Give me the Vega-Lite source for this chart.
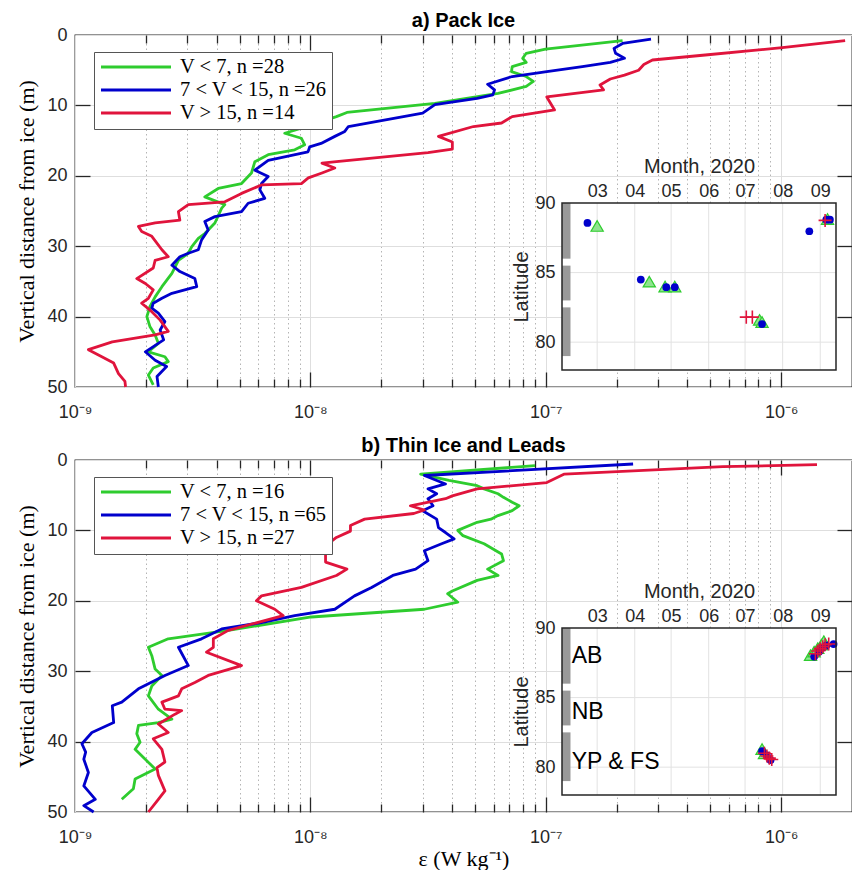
{
  "$schema": "https://vega.github.io/schema/vega-lite/v6.json",
  "background": "white",
  "padding": {"left": 15, "top": 10, "right": 0, "bottom": 0},
  "spacing": 13,
  "config": {
    "font": "Liberation Sans",
    "view": {"stroke": "#262626", "strokeWidth": 1.3},
    "axis": {"labelFont": "Liberation Sans", "labelFontSize": 18, "labelColor": "#262626", "titleFont": "Liberation Serif", "titleFontSize": 22, "titleFontWeight": "normal", "titleColor": "#000000", "tickColor": "#262626", "tickWidth": 1.3, "labelFlush": false, "labelOverlap": false, "gridColor": "#dedede", "gridWidth": 1},
    "title": {"font": "Liberation Sans", "fontSize": 20, "fontWeight": "bold", "color": "#000000", "anchor": "middle", "offset": -5}
  },
  "resolve": {"scale": {"color": "independent"}},
  "datasets": {
    "A": [
      {"s":"g","d":0.81,"e":2.12e-7},{"s":"g","d":2.0,"e":9.97e-8},{"s":"g","d":2.6,"e":8.26e-8},{"s":"g","d":3.3,"e":7.98e-8},{"s":"g","d":3.9,"e":8.26e-8},{"s":"g","d":4.5,"e":7.2e-8},{"s":"g","d":5.2,"e":7.15e-8},{"s":"g","d":5.9,"e":8.26e-8},{"s":"g","d":6.6,"e":8.85e-8},{"s":"g","d":7.3,"e":8.26e-8},{"s":"g","d":8.3,"e":6.27e-8},{"s":"g","d":9.7,"e":3.38e-8},{"s":"g","d":11.0,"e":1.43e-8},{"s":"g","d":11.6,"e":1.29e-8},{"s":"g","d":13.25,"e":9.16e-9},{"s":"g","d":13.96,"e":7.78e-9},{"s":"g","d":14.67,"e":9.16e-9},{"s":"g","d":15.6,"e":9.46e-9},{"s":"g","d":16.3,"e":8.58e-9},{"s":"g","d":17.0,"e":6.62e-9},{"s":"g","d":18.0,"e":5.81e-9},{"s":"g","d":19.6,"e":5.62e-9},{"s":"g","d":21.1,"e":5.1e-9},{"s":"g","d":21.8,"e":4.06e-9},{"s":"g","d":23.0,"e":3.56e-9},{"s":"g","d":24.1,"e":4.33e-9},{"s":"g","d":24.6,"e":4.2e-9},{"s":"g","d":26.7,"e":3.93e-9},{"s":"g","d":28.2,"e":3.56e-9},{"s":"g","d":28.9,"e":3.34e-9},{"s":"g","d":30.1,"e":3.13e-9},{"s":"g","d":31.0,"e":3.03e-9},{"s":"g","d":32.0,"e":2.75e-9},{"s":"g","d":33.85,"e":2.58e-9},{"s":"g","d":35.75,"e":2.34e-9},{"s":"g","d":37.2,"e":2.19e-9},{"s":"g","d":38.6,"e":2.08e-9},{"s":"g","d":40.0,"e":2.02e-9},{"s":"g","d":41.4,"e":2.08e-9},{"s":"g","d":42.6,"e":2.19e-9},{"s":"g","d":43.8,"e":2.26e-9},{"s":"g","d":45.0,"e":2.05e-9},{"s":"g","d":45.7,"e":2.41e-9},{"s":"g","d":46.4,"e":2.49e-9},{"s":"g","d":47.3,"e":2.15e-9},{"s":"g","d":48.3,"e":2.05e-9},{"s":"g","d":49.7,"e":2.15e-9},
      {"s":"b","d":0.57,"e":2.8e-7},{"s":"b","d":1.2,"e":2.12e-7},{"s":"b","d":1.9,"e":1.95e-7},{"s":"b","d":2.6,"e":1.98e-7},{"s":"b","d":3.3,"e":2.16e-7},{"s":"b","d":3.9,"e":1.88e-7},{"s":"b","d":4.5,"e":1.43e-7},{"s":"b","d":5.2,"e":1.01e-7},{"s":"b","d":5.9,"e":7.2e-8},{"s":"b","d":7.0,"e":5.66e-8},{"s":"b","d":7.8,"e":6.06e-8},{"s":"b","d":8.5,"e":5.96e-8},{"s":"b","d":9.0,"e":5.11e-8},{"s":"b","d":9.9,"e":3.38e-8},{"s":"b","d":11.1,"e":3.0e-8},{"s":"b","d":13.0,"e":1.45e-8},{"s":"b","d":13.7,"e":1.4e-8},{"s":"b","d":14.4,"e":1.27e-8},{"s":"b","d":15.4,"e":1.11e-8},{"s":"b","d":15.9,"e":9.93e-9},{"s":"b","d":16.6,"e":9.77e-9},{"s":"b","d":17.8,"e":6.62e-9},{"s":"b","d":19.2,"e":5.81e-9},{"s":"b","d":20.1,"e":6.62e-9},{"s":"b","d":21.1,"e":6.2e-9},{"s":"b","d":22.0,"e":6.1e-9},{"s":"b","d":23.2,"e":6.4e-9},{"s":"b","d":23.9,"e":5.44e-9},{"s":"b","d":25.1,"e":5.1e-9},{"s":"b","d":25.8,"e":3.93e-9},{"s":"b","d":26.5,"e":3.56e-9},{"s":"b","d":27.7,"e":3.68e-9},{"s":"b","d":29.1,"e":3.45e-9},{"s":"b","d":30.5,"e":3.34e-9},{"s":"b","d":31.0,"e":3.03e-9},{"s":"b","d":31.5,"e":2.79e-9},{"s":"b","d":32.7,"e":2.58e-9},{"s":"b","d":33.6,"e":2.79e-9},{"s":"b","d":34.6,"e":3.23e-9},{"s":"b","d":35.75,"e":3.29e-9},{"s":"b","d":36.7,"e":2.58e-9},{"s":"b","d":37.4,"e":2.34e-9},{"s":"b","d":38.1,"e":2.15e-9},{"s":"b","d":38.8,"e":2.12e-9},{"s":"b","d":39.5,"e":2.26e-9},{"s":"b","d":40.7,"e":2.41e-9},{"s":"b","d":41.9,"e":2.3e-9},{"s":"b","d":43.3,"e":2.38e-9},{"s":"b","d":45.0,"e":1.99e-9},{"s":"b","d":46.2,"e":2.19e-9},{"s":"b","d":47.1,"e":2.45e-9},{"s":"b","d":48.5,"e":2.23e-9},{"s":"b","d":50.0,"e":2.26e-9},
      {"s":"r","d":0.81,"e":1.87e-6},{"s":"r","d":1.8,"e":1.01e-6},{"s":"r","d":2.84,"e":4.76e-7},{"s":"r","d":3.55,"e":2.84e-7},{"s":"r","d":4.2,"e":2.61e-7},{"s":"r","d":5.0,"e":2.48e-7},{"s":"r","d":5.7,"e":2.16e-7},{"s":"r","d":6.25,"e":1.88e-7},{"s":"r","d":7.1,"e":1.7e-7},{"s":"r","d":7.8,"e":1.76e-7},{"s":"r","d":8.8,"e":1.01e-7},{"s":"r","d":10.65,"e":1.09e-7},{"s":"r","d":11.6,"e":7.2e-8},{"s":"r","d":12.5,"e":6.49e-8},{"s":"r","d":13.0,"e":4.93e-8},{"s":"r","d":14.4,"e":3.5e-8},{"s":"r","d":15.2,"e":4.01e-8},{"s":"r","d":16.2,"e":4.01e-8},{"s":"r","d":16.7,"e":3.16e-8},{"s":"r","d":18.0,"e":1.29e-8},{"s":"r","d":18.2,"e":1.12e-8},{"s":"r","d":18.9,"e":1.27e-8},{"s":"r","d":19.6,"e":1.12e-8},{"s":"r","d":20.3,"e":9.8e-9},{"s":"r","d":21.1,"e":9.16e-9},{"s":"r","d":21.3,"e":6.2e-9},{"s":"r","d":22.5,"e":5.1e-9},{"s":"r","d":23.7,"e":4.33e-9},{"s":"r","d":24.1,"e":3.03e-9},{"s":"r","d":25.1,"e":2.75e-9},{"s":"r","d":26.3,"e":2.79e-9},{"s":"r","d":26.7,"e":2.19e-9},{"s":"r","d":27.2,"e":1.86e-9},{"s":"r","d":27.9,"e":1.92e-9},{"s":"r","d":28.6,"e":2.12e-9},{"s":"r","d":30.5,"e":2.34e-9},{"s":"r","d":31.5,"e":2.49e-9},{"s":"r","d":32.0,"e":2.19e-9},{"s":"r","d":33.1,"e":2.15e-9},{"s":"r","d":34.6,"e":1.83e-9},{"s":"r","d":35.3,"e":1.99e-9},{"s":"r","d":36.2,"e":2.15e-9},{"s":"r","d":37.4,"e":2.05e-9},{"s":"r","d":38.1,"e":1.92e-9},{"s":"r","d":39.3,"e":2.12e-9},{"s":"r","d":40.5,"e":2.3e-9},{"s":"r","d":42.1,"e":2.49e-9},{"s":"r","d":42.6,"e":2.19e-9},{"s":"r","d":43.6,"e":1.44e-9},{"s":"r","d":44.7,"e":1.14e-9},{"s":"r","d":45.7,"e":1.3e-9},{"s":"r","d":46.6,"e":1.46e-9},{"s":"r","d":48.1,"e":1.53e-9},{"s":"r","d":49.2,"e":1.63e-9},{"s":"r","d":50.0,"e":1.64e-9}
    ],
    "B": [
      {"s":"g","d":0.8,"e":9.0e-8},{"s":"g","d":2.0,"e":2.94e-8},{"s":"g","d":2.9,"e":3.88e-8},{"s":"g","d":3.65,"e":5.11e-8},{"s":"g","d":4.1,"e":5.47e-8},{"s":"g","d":4.8,"e":6.27e-8},{"s":"g","d":5.3,"e":6.61e-8},{"s":"g","d":6.0,"e":7.2e-8},{"s":"g","d":6.5,"e":7.71e-8},{"s":"g","d":7.2,"e":7.2e-8},{"s":"g","d":7.9,"e":6.27e-8},{"s":"g","d":8.4,"e":5.85e-8},{"s":"g","d":8.85,"e":5.11e-8},{"s":"g","d":10.0,"e":4.23e-8},{"s":"g","d":10.75,"e":4.45e-8},{"s":"g","d":11.9,"e":5.47e-8},{"s":"g","d":13.35,"e":6.49e-8},{"s":"g","d":14.3,"e":6.61e-8},{"s":"g","d":15.5,"e":5.66e-8},{"s":"g","d":16.4,"e":6.27e-8},{"s":"g","d":17.1,"e":5.11e-8},{"s":"g","d":18.6,"e":4.01e-8},{"s":"g","d":19.0,"e":3.83e-8},{"s":"g","d":20.2,"e":4.23e-8},{"s":"g","d":21.2,"e":3.05e-8},{"s":"g","d":22.3,"e":1.01e-8},{"s":"g","d":24.2,"e":4.48e-9},{"s":"g","d":25.4,"e":2.49e-9},{"s":"g","d":26.6,"e":2.05e-9},{"s":"g","d":27.8,"e":2.12e-9},{"s":"g","d":29.7,"e":2.19e-9},{"s":"g","d":30.6,"e":2.34e-9},{"s":"g","d":32.1,"e":2.12e-9},{"s":"g","d":33.5,"e":2.05e-9},{"s":"g","d":35.4,"e":2.26e-9},{"s":"g","d":36.8,"e":2.58e-9},{"s":"g","d":37.3,"e":2.26e-9},{"s":"g","d":37.7,"e":1.86e-9},{"s":"g","d":38.9,"e":1.83e-9},{"s":"g","d":40.1,"e":1.89e-9},{"s":"g","d":41.1,"e":1.8e-9},{"s":"g","d":42.0,"e":1.92e-9},{"s":"g","d":43.9,"e":2.19e-9},{"s":"g","d":45.3,"e":1.8e-9},{"s":"g","d":46.7,"e":1.77e-9},{"s":"g","d":48.2,"e":1.58e-9},
      {"s":"b","d":0.57,"e":2.35e-7},{"s":"b","d":2.2,"e":3.05e-8},{"s":"b","d":3.4,"e":3.75e-8},{"s":"b","d":4.1,"e":3.16e-8},{"s":"b","d":4.8,"e":3.44e-8},{"s":"b","d":5.5,"e":3.16e-8},{"s":"b","d":6.5,"e":3.32e-8},{"s":"b","d":7.2,"e":3.0e-8},{"s":"b","d":8.4,"e":3.44e-8},{"s":"b","d":9.6,"e":3.5e-8},{"s":"b","d":10.3,"e":3.75e-8},{"s":"b","d":11.2,"e":4.08e-8},{"s":"b","d":11.9,"e":3.61e-8},{"s":"b","d":12.9,"e":3.05e-8},{"s":"b","d":14.3,"e":3.16e-8},{"s":"b","d":15.5,"e":2.8e-8},{"s":"b","d":16.4,"e":2.24e-8},{"s":"b","d":18.1,"e":1.82e-8},{"s":"b","d":19.3,"e":1.54e-8},{"s":"b","d":21.2,"e":1.27e-8},{"s":"b","d":22.1,"e":8.58e-9},{"s":"b","d":23.1,"e":6.2e-9},{"s":"b","d":24.0,"e":4.2e-9},{"s":"b","d":25.4,"e":3.45e-9},{"s":"b","d":26.6,"e":2.75e-9},{"s":"b","d":29.2,"e":3.03e-9},{"s":"b","d":30.6,"e":2.41e-9},{"s":"b","d":32.5,"e":1.86e-9},{"s":"b","d":34.4,"e":1.58e-9},{"s":"b","d":34.9,"e":1.44e-9},{"s":"b","d":37.3,"e":1.46e-9},{"s":"b","d":38.7,"e":1.18e-9},{"s":"b","d":40.3,"e":1.07e-9},{"s":"b","d":41.5,"e":1.11e-9},{"s":"b","d":42.5,"e":1.09e-9},{"s":"b","d":44.4,"e":1.14e-9},{"s":"b","d":46.3,"e":1.09e-9},{"s":"b","d":48.2,"e":1.22e-9},{"s":"b","d":49.1,"e":1.09e-9},{"s":"b","d":50.0,"e":1.2e-9},
      {"s":"r","d":0.66,"e":1.42e-6},{"s":"r","d":0.95,"e":5.65e-7},{"s":"r","d":2.0,"e":1.2e-7},{"s":"r","d":3.2,"e":1.01e-7},{"s":"r","d":4.1,"e":5.11e-8},{"s":"r","d":5.1,"e":4.01e-8},{"s":"r","d":5.5,"e":3.75e-8},{"s":"r","d":6.5,"e":2.66e-8},{"s":"r","d":7.1,"e":3.05e-8},{"s":"r","d":7.6,"e":2.75e-8},{"s":"r","d":8.4,"e":1.7e-8},{"s":"r","d":9.3,"e":1.48e-8},{"s":"r","d":10.1,"e":1.48e-8},{"s":"r","d":11.0,"e":1.29e-8},{"s":"r","d":12.2,"e":1.16e-8},{"s":"r","d":14.5,"e":1.16e-8},{"s":"r","d":15.5,"e":1.43e-8},{"s":"r","d":16.4,"e":1.29e-8},{"s":"r","d":18.1,"e":9.16e-9},{"s":"r","d":19.3,"e":6.2e-9},{"s":"r","d":20.0,"e":5.9e-9},{"s":"r","d":21.2,"e":7.06e-9},{"s":"r","d":22.1,"e":7.66e-9},{"s":"r","d":24.2,"e":4.48e-9},{"s":"r","d":25.4,"e":3.87e-9},{"s":"r","d":26.6,"e":3.87e-9},{"s":"r","d":27.3,"e":3.62e-9},{"s":"r","d":29.2,"e":5.1e-9},{"s":"r","d":30.6,"e":3.68e-9},{"s":"r","d":31.6,"e":3.23e-9},{"s":"r","d":32.5,"e":2.84e-9},{"s":"r","d":33.5,"e":2.75e-9},{"s":"r","d":34.4,"e":2.34e-9},{"s":"r","d":35.4,"e":2.41e-9},{"s":"r","d":35.6,"e":2.84e-9},{"s":"r","d":36.1,"e":2.66e-9},{"s":"r","d":37.5,"e":2.26e-9},{"s":"r","d":38.7,"e":2.49e-9},{"s":"r","d":39.6,"e":2.15e-9},{"s":"r","d":41.1,"e":2.34e-9},{"s":"r","d":42.9,"e":2.41e-9},{"s":"r","d":43.7,"e":2.23e-9},{"s":"r","d":44.8,"e":2.26e-9},{"s":"r","d":47.0,"e":2.41e-9},{"s":"r","d":48.2,"e":2.26e-9},{"s":"r","d":50.0,"e":2.05e-9}
    ],
    "box": [{"d0": "2020-02-01", "d1": "2020-09-14", "l0": 78, "l1": 90}],
    "months": [{"m": "2020-03-01"}, {"m": "2020-04-01"}, {"m": "2020-05-01"}, {"m": "2020-06-01"}, {"m": "2020-07-01"}, {"m": "2020-08-01"}, {"m": "2020-09-01"}],
    "lats": [{"l": 80}, {"l": 85}],
    "regions": [{"l0": 86, "l1": 90}, {"l0": 83, "l1": 85.5}, {"l0": 79, "l1": 82.5}]
  },
  "vconcat": [
    {
      "width": 777, "height": 352,
      "title": {"text": "a) Pack Ice"},
      "resolve": {"scale": {"x": "independent", "y": "independent"}},
      "layer": [
        {"data": {"name": "A"},
         "mark": {"type": "line", "strokeWidth": 2.8, "strokeJoin": "round"},
         "encoding": {
           "x": {"field": "e", "type": "quantitative", "scale": {"type": "log", "domain": [1e-9, 2e-6], "nice": false},
                 "axis": {"orient": "bottom", "values": [1e-9, 1e-8, 1e-7, 1e-6], "labelExpr": "datum.value < 5e-9 ? '10⁻⁹' : datum.value < 5e-8 ? '10⁻⁸' : datum.value < 5e-7 ? '10⁻⁷' : '10⁻⁶'", "grid": true, "ticks": false, "tickSize": 0, "domain": false, "labelPadding": 16, "title": null}},
           "y": {"field": "d", "type": "quantitative", "scale": {"domain": [0, 50], "reverse": true, "nice": false, "zero": false},
                 "axis": {"orient": "left", "values": [0, 10, 20, 30, 40, 50], "grid": true, "ticks": false, "tickSize": 0, "domain": false, "labelPadding": 8, "title": "Vertical distance from ice (m)", "titlePadding": 8}},
           "color": {"field": "s", "type": "nominal", "scale": {"domain": ["g", "b", "r"], "range": ["#2ecc2e", "#0000cc", "#e0143c"]},
                     "legend": {"orient": "none", "legendX": 19, "legendY": 17, "title": null, "symbolType": "stroke", "symbolSize": 4900, "symbolStrokeWidth": 3.2, "clipHeight": 20, "rowPadding": 2, "labelFont": "Liberation Serif", "labelFontSize": 20.5, "labelColor": "#000000", "labelOffset": 7, "labelLimit": 400, "fillColor": "#ffffff", "strokeColor": "#555555", "padding": 5,
                                "labelExpr": "datum.value == 'g' ? 'V < 7, n =28' : datum.value == 'b' ? '7 < V < 15, n =26' : 'V > 15, n =14'"}},
           "order": {"field": "d", "type": "quantitative"}
         }},
        {"data": {"name": "A"},
         "mark": {"type": "point", "opacity": 0},
         "encoding": {
           "x": {"field": "e", "type": "quantitative", "scale": {"type": "log", "domain": [1e-9, 2e-6], "nice": false}, "axis": {"orient": "bottom", "values": [2e-9,3e-9,4e-9,5e-9,6e-9,7e-9,8e-9,9e-9,2e-8,3e-8,4e-8,5e-8,6e-8,7e-8,8e-8,9e-8,2e-7,3e-7,4e-7,5e-7,6e-7,7e-7,8e-7,9e-7], "grid": true, "gridColor": "#b4b4b4", "gridDash": [1.5, 3], "ticks": false, "tickSize": 0, "labels": false, "domain": false, "title": null}},
           "y": {"field": "d", "type": "quantitative", "scale": {"domain": [0, 50], "reverse": true, "nice": false, "zero": false}, "axis": {"orient": "left", "values": [10, 20, 30, 40], "grid": false, "labels": false, "domain": false, "ticks": true, "tickSize": 15, "offset": -15, "title": null}}
         }},
        {"data": {"name": "A"},
         "mark": {"type": "point", "opacity": 0},
         "encoding": {
           "x": {"field": "e", "type": "quantitative", "scale": {"type": "log", "domain": [1e-9, 2e-6], "nice": false}, "axis": {"orient": "bottom", "values": [1e-8, 1e-7, 1e-6], "grid": false, "labels": false, "domain": false, "ticks": true, "tickSize": 15, "offset": -15, "title": null}},
           "y": {"field": "d", "type": "quantitative", "scale": {"domain": [0, 50], "reverse": true, "nice": false, "zero": false}, "axis": {"orient": "right", "values": [10, 20, 30, 40], "grid": false, "labels": false, "domain": false, "ticks": true, "tickSize": 15, "offset": -15, "title": null}}
         }},
        {"data": {"name": "A"},
         "mark": {"type": "point", "opacity": 0},
         "encoding": {
           "x": {"field": "e", "type": "quantitative", "scale": {"type": "log", "domain": [1e-9, 2e-6], "nice": false}, "axis": {"orient": "bottom", "values": [2e-9,3e-9,4e-9,5e-9,6e-9,7e-9,8e-9,9e-9,2e-8,3e-8,4e-8,5e-8,6e-8,7e-8,8e-8,9e-8,2e-7,3e-7,4e-7,5e-7,6e-7,7e-7,8e-7,9e-7], "grid": false, "labels": false, "domain": false, "ticks": true, "tickSize": 8, "offset": -8, "title": null}},
           "y": {"field": "d", "type": "quantitative", "scale": {"domain": [0, 50], "reverse": true, "nice": false, "zero": false}, "axis": null}
         }},
        {"data": {"name": "A"},
         "mark": {"type": "point", "opacity": 0},
         "encoding": {
           "x": {"field": "e", "type": "quantitative", "scale": {"type": "log", "domain": [1e-9, 2e-6], "nice": false}, "axis": {"orient": "top", "values": [1e-8, 1e-7, 1e-6], "grid": false, "labels": false, "domain": false, "ticks": true, "tickSize": 15, "offset": -15, "title": null}},
           "y": {"field": "d", "type": "quantitative", "scale": {"domain": [0, 50], "reverse": true, "nice": false, "zero": false}, "axis": null}
         }},
        {"data": {"name": "A"},
         "mark": {"type": "point", "opacity": 0},
         "encoding": {
           "x": {"field": "e", "type": "quantitative", "scale": {"type": "log", "domain": [1e-9, 2e-6], "nice": false}, "axis": {"orient": "top", "values": [2e-9,3e-9,4e-9,5e-9,6e-9,7e-9,8e-9,9e-9,2e-8,3e-8,4e-8,5e-8,6e-8,7e-8,8e-8,9e-8,2e-7,3e-7,4e-7,5e-7,6e-7,7e-7,8e-7,9e-7], "grid": false, "labels": false, "domain": false, "ticks": true, "tickSize": 8, "offset": -8, "title": null}},
           "y": {"field": "d", "type": "quantitative", "scale": {"domain": [0, 50], "reverse": true, "nice": false, "zero": false}, "axis": null}
         }},
        {"data": {"name": "box", "format": {"parse": {"d0": "date", "d1": "date"}}},
         "mark": {"type": "rect", "fill": "#ffffff", "strokeWidth": 0},
         "encoding": {
           "x": {"field": "d0", "type": "temporal", "scale": {"type": "utc", "domain": [{"year": 2020, "month": 2, "date": 1, "utc": true}, {"year": 2020, "month": 9, "date": 14, "utc": true}], "range": [487, 761], "nice": false},
                 "axis": {"orient": "top", "offset": -168, "values": [{"year": 2020, "month": 3, "date": 1, "utc": true}, {"year": 2020, "month": 4, "date": 1, "utc": true}, {"year": 2020, "month": 5, "date": 1, "utc": true}, {"year": 2020, "month": 6, "date": 1, "utc": true}, {"year": 2020, "month": 7, "date": 1, "utc": true}, {"year": 2020, "month": 8, "date": 1, "utc": true}, {"year": 2020, "month": 9, "date": 1, "utc": true}], "format": "%m", "labelFontSize": 18, "labelPadding": 3, "ticks": false, "tickSize": 0, "grid": false, "domain": false, "title": "Month, 2020", "titleFont": "Liberation Sans", "titleFontSize": 20, "titleColor": "#262626", "titlePadding": 6}},
           "x2": {"field": "d1"},
           "y": {"field": "l0", "type": "quantitative", "scale": {"domain": [78, 90], "range": [335, 168], "nice": false, "zero": false},
                 "axis": {"orient": "left", "offset": -487, "values": [80, 85, 90], "labelFontSize": 18, "labelPadding": 7, "ticks": false, "tickSize": 0, "grid": false, "domain": false, "title": "Latitude", "titleFont": "Liberation Sans", "titleFontSize": 20, "titleColor": "#262626", "titlePadding": 3}},
           "y2": {"field": "l1"}
         }},
        {"data": {"name": "months", "format": {"parse": {"m": "date"}}},
         "mark": {"type": "rule", "color": "#e2e2e2", "strokeWidth": 1},
         "encoding": {
           "x": {"field": "m", "type": "temporal", "scale": {"type": "utc", "domain": [{"year": 2020, "month": 2, "date": 1, "utc": true}, {"year": 2020, "month": 9, "date": 14, "utc": true}], "range": [487, 761], "nice": false}, "axis": null},
           "y": {"datum": 78, "type": "quantitative", "scale": {"domain": [78, 90], "range": [335, 168], "nice": false, "zero": false}, "axis": null},
           "y2": {"datum": 90}
         }},
        {"data": {"name": "lats"},
         "mark": {"type": "rule", "color": "#e2e2e2", "strokeWidth": 1},
         "encoding": {
           "y": {"field": "l", "type": "quantitative", "scale": {"domain": [78, 90], "range": [335, 168], "nice": false, "zero": false}, "axis": null},
           "x": {"datum": {"year": 2020, "month": 2, "date": 1, "utc": true}, "type": "temporal", "scale": {"type": "utc", "domain": [{"year": 2020, "month": 2, "date": 1, "utc": true}, {"year": 2020, "month": 9, "date": 14, "utc": true}], "range": [487, 761], "nice": false}, "axis": null},
           "x2": {"datum": {"year": 2020, "month": 9, "date": 14, "utc": true}}
         }},
        {"data": {"name": "regions"},
         "mark": {"type": "rect", "color": "#999999"},
         "encoding": {
           "x": {"datum": {"year": 2020, "month": 2, "date": 1, "utc": true}, "type": "temporal", "scale": {"type": "utc", "domain": [{"year": 2020, "month": 2, "date": 1, "utc": true}, {"year": 2020, "month": 9, "date": 14, "utc": true}], "range": [487, 761], "nice": false}, "axis": null},
           "x2": {"datum": {"year": 2020, "month": 2, "date": 8, "utc": true}},
           "y": {"field": "l0", "type": "quantitative", "scale": {"domain": [78, 90], "range": [335, 168], "nice": false, "zero": false}, "axis": null},
           "y2": {"field": "l1"}
         }},
        {"data": {"values": [{"t": "2020-03-01", "l": 88.35}, {"t": "2020-04-13", "l": 84.35}, {"t": "2020-04-26", "l": 84.0}, {"t": "2020-05-04", "l": 84.0}, {"t": "2020-07-13", "l": 81.6}, {"t": "2020-07-15", "l": 81.45}, {"t": "2020-09-07", "l": 88.85}], "format": {"parse": {"t": "date"}}},
         "mark": {"type": "point", "shape": "triangle-up", "size": 150, "filled": true, "fill": "#8fe38f", "stroke": "#2ecc2e", "strokeWidth": 1.2, "opacity": 1},
         "encoding": {
           "x": {"field": "t", "type": "temporal", "scale": {"type": "utc", "domain": [{"year": 2020, "month": 2, "date": 1, "utc": true}, {"year": 2020, "month": 9, "date": 14, "utc": true}], "range": [487, 761], "nice": false}, "axis": null},
           "y": {"field": "l", "type": "quantitative", "scale": {"domain": [78, 90], "range": [335, 168], "nice": false, "zero": false}, "axis": null}
         }},
        {"data": {"values": [{"t": "2020-02-22", "l": 88.57}, {"t": "2020-04-06", "l": 84.5}, {"t": "2020-04-27", "l": 83.95}, {"t": "2020-05-04", "l": 83.95}, {"t": "2020-07-15", "l": 81.3}, {"t": "2020-08-23", "l": 87.97}, {"t": "2020-09-06", "l": 88.8}, {"t": "2020-09-09", "l": 88.8}], "format": {"parse": {"t": "date"}}},
         "mark": {"type": "circle", "size": 60, "color": "#0000cc", "opacity": 1},
         "encoding": {
           "x": {"field": "t", "type": "temporal", "scale": {"type": "utc", "domain": [{"year": 2020, "month": 2, "date": 1, "utc": true}, {"year": 2020, "month": 9, "date": 14, "utc": true}], "range": [487, 761], "nice": false}, "axis": null},
           "y": {"field": "l", "type": "quantitative", "scale": {"domain": [78, 90], "range": [335, 168], "nice": false, "zero": false}, "axis": null}
         }},
        {"data": {"values": [{"t": "2020-07-02", "l": 81.8}, {"t": "2020-07-07", "l": 81.8}, {"t": "2020-09-05", "l": 88.75}], "format": {"parse": {"t": "date"}}},
         "mark": {"type": "point", "shape": "M-1,0H1M0,-1V1", "size": 170, "filled": false, "stroke": "#e0143c", "strokeWidth": 1.6, "opacity": 1},
         "encoding": {
           "x": {"field": "t", "type": "temporal", "scale": {"type": "utc", "domain": [{"year": 2020, "month": 2, "date": 1, "utc": true}, {"year": 2020, "month": 9, "date": 14, "utc": true}], "range": [487, 761], "nice": false}, "axis": null},
           "y": {"field": "l", "type": "quantitative", "scale": {"domain": [78, 90], "range": [335, 168], "nice": false, "zero": false}, "axis": null}
         }},
        {"data": {"name": "box", "format": {"parse": {"d0": "date", "d1": "date"}}},
         "mark": {"type": "rect", "fillOpacity": 0, "stroke": "#262626", "strokeWidth": 1.5},
         "encoding": {
           "x": {"field": "d0", "type": "temporal", "scale": {"type": "utc", "domain": [{"year": 2020, "month": 2, "date": 1, "utc": true}, {"year": 2020, "month": 9, "date": 14, "utc": true}], "range": [487, 761], "nice": false}, "axis": null},
           "x2": {"field": "d1"},
           "y": {"field": "l0", "type": "quantitative", "scale": {"domain": [78, 90], "range": [335, 168], "nice": false, "zero": false}, "axis": null},
           "y2": {"field": "l1"}
         }}
      ]
    },
    {
      "width": 777, "height": 352,
      "title": {"text": "b) Thin Ice and Leads"},
      "resolve": {"scale": {"x": "independent", "y": "independent"}},
      "layer": [
        {"data": {"name": "B"},
         "mark": {"type": "line", "strokeWidth": 2.8, "strokeJoin": "round"},
         "encoding": {
           "x": {"field": "e", "type": "quantitative", "scale": {"type": "log", "domain": [1e-9, 2e-6], "nice": false},
                 "axis": {"orient": "bottom", "values": [1e-9, 1e-8, 1e-7, 1e-6], "labelExpr": "datum.value < 5e-9 ? '10⁻⁹' : datum.value < 5e-8 ? '10⁻⁸' : datum.value < 5e-7 ? '10⁻⁷' : '10⁻⁶'", "grid": true, "ticks": false, "tickSize": 0, "domain": false, "labelPadding": 16, "title": "ε (W kg⁻¹)", "titlePadding": 2}},
           "y": {"field": "d", "type": "quantitative", "scale": {"domain": [0, 50], "reverse": true, "nice": false, "zero": false},
                 "axis": {"orient": "left", "values": [0, 10, 20, 30, 40, 50], "grid": true, "ticks": false, "tickSize": 0, "domain": false, "labelPadding": 8, "title": "Vertical distance from ice (m)", "titlePadding": 8}},
           "color": {"field": "s", "type": "nominal", "scale": {"domain": ["g", "b", "r"], "range": ["#2ecc2e", "#0000cc", "#e0143c"]},
                     "legend": {"orient": "none", "legendX": 19, "legendY": 17, "title": null, "symbolType": "stroke", "symbolSize": 4900, "symbolStrokeWidth": 3.2, "clipHeight": 20, "rowPadding": 2, "labelFont": "Liberation Serif", "labelFontSize": 20.5, "labelColor": "#000000", "labelOffset": 7, "labelLimit": 400, "fillColor": "#ffffff", "strokeColor": "#555555", "padding": 5,
                                "labelExpr": "datum.value == 'g' ? 'V < 7, n =16' : datum.value == 'b' ? '7 < V < 15, n =65' : 'V > 15, n =27'"}},
           "order": {"field": "d", "type": "quantitative"}
         }},
        {"data": {"name": "B"},
         "mark": {"type": "point", "opacity": 0},
         "encoding": {
           "x": {"field": "e", "type": "quantitative", "scale": {"type": "log", "domain": [1e-9, 2e-6], "nice": false}, "axis": {"orient": "bottom", "values": [2e-9,3e-9,4e-9,5e-9,6e-9,7e-9,8e-9,9e-9,2e-8,3e-8,4e-8,5e-8,6e-8,7e-8,8e-8,9e-8,2e-7,3e-7,4e-7,5e-7,6e-7,7e-7,8e-7,9e-7], "grid": true, "gridColor": "#b4b4b4", "gridDash": [1.5, 3], "ticks": false, "tickSize": 0, "labels": false, "domain": false, "title": null}},
           "y": {"field": "d", "type": "quantitative", "scale": {"domain": [0, 50], "reverse": true, "nice": false, "zero": false}, "axis": {"orient": "left", "values": [10, 20, 30, 40], "grid": false, "labels": false, "domain": false, "ticks": true, "tickSize": 15, "offset": -15, "title": null}}
         }},
        {"data": {"name": "B"},
         "mark": {"type": "point", "opacity": 0},
         "encoding": {
           "x": {"field": "e", "type": "quantitative", "scale": {"type": "log", "domain": [1e-9, 2e-6], "nice": false}, "axis": {"orient": "bottom", "values": [1e-8, 1e-7, 1e-6], "grid": false, "labels": false, "domain": false, "ticks": true, "tickSize": 15, "offset": -15, "title": null}},
           "y": {"field": "d", "type": "quantitative", "scale": {"domain": [0, 50], "reverse": true, "nice": false, "zero": false}, "axis": {"orient": "right", "values": [10, 20, 30, 40], "grid": false, "labels": false, "domain": false, "ticks": true, "tickSize": 15, "offset": -15, "title": null}}
         }},
        {"data": {"name": "B"},
         "mark": {"type": "point", "opacity": 0},
         "encoding": {
           "x": {"field": "e", "type": "quantitative", "scale": {"type": "log", "domain": [1e-9, 2e-6], "nice": false}, "axis": {"orient": "bottom", "values": [2e-9,3e-9,4e-9,5e-9,6e-9,7e-9,8e-9,9e-9,2e-8,3e-8,4e-8,5e-8,6e-8,7e-8,8e-8,9e-8,2e-7,3e-7,4e-7,5e-7,6e-7,7e-7,8e-7,9e-7], "grid": false, "labels": false, "domain": false, "ticks": true, "tickSize": 8, "offset": -8, "title": null}},
           "y": {"field": "d", "type": "quantitative", "scale": {"domain": [0, 50], "reverse": true, "nice": false, "zero": false}, "axis": null}
         }},
        {"data": {"name": "B"},
         "mark": {"type": "point", "opacity": 0},
         "encoding": {
           "x": {"field": "e", "type": "quantitative", "scale": {"type": "log", "domain": [1e-9, 2e-6], "nice": false}, "axis": {"orient": "top", "values": [1e-8, 1e-7, 1e-6], "grid": false, "labels": false, "domain": false, "ticks": true, "tickSize": 15, "offset": -15, "title": null}},
           "y": {"field": "d", "type": "quantitative", "scale": {"domain": [0, 50], "reverse": true, "nice": false, "zero": false}, "axis": null}
         }},
        {"data": {"name": "B"},
         "mark": {"type": "point", "opacity": 0},
         "encoding": {
           "x": {"field": "e", "type": "quantitative", "scale": {"type": "log", "domain": [1e-9, 2e-6], "nice": false}, "axis": {"orient": "top", "values": [2e-9,3e-9,4e-9,5e-9,6e-9,7e-9,8e-9,9e-9,2e-8,3e-8,4e-8,5e-8,6e-8,7e-8,8e-8,9e-8,2e-7,3e-7,4e-7,5e-7,6e-7,7e-7,8e-7,9e-7], "grid": false, "labels": false, "domain": false, "ticks": true, "tickSize": 8, "offset": -8, "title": null}},
           "y": {"field": "d", "type": "quantitative", "scale": {"domain": [0, 50], "reverse": true, "nice": false, "zero": false}, "axis": null}
         }},
        {"data": {"name": "box", "format": {"parse": {"d0": "date", "d1": "date"}}},
         "mark": {"type": "rect", "fill": "#ffffff", "strokeWidth": 0},
         "encoding": {
           "x": {"field": "d0", "type": "temporal", "scale": {"type": "utc", "domain": [{"year": 2020, "month": 2, "date": 1, "utc": true}, {"year": 2020, "month": 9, "date": 14, "utc": true}], "range": [487, 761], "nice": false},
                 "axis": {"orient": "top", "offset": -168, "values": [{"year": 2020, "month": 3, "date": 1, "utc": true}, {"year": 2020, "month": 4, "date": 1, "utc": true}, {"year": 2020, "month": 5, "date": 1, "utc": true}, {"year": 2020, "month": 6, "date": 1, "utc": true}, {"year": 2020, "month": 7, "date": 1, "utc": true}, {"year": 2020, "month": 8, "date": 1, "utc": true}, {"year": 2020, "month": 9, "date": 1, "utc": true}], "format": "%m", "labelFontSize": 18, "labelPadding": 3, "ticks": false, "tickSize": 0, "grid": false, "domain": false, "title": "Month, 2020", "titleFont": "Liberation Sans", "titleFontSize": 20, "titleColor": "#262626", "titlePadding": 6}},
           "x2": {"field": "d1"},
           "y": {"field": "l0", "type": "quantitative", "scale": {"domain": [78, 90], "range": [335, 168], "nice": false, "zero": false},
                 "axis": {"orient": "left", "offset": -487, "values": [80, 85, 90], "labelFontSize": 18, "labelPadding": 7, "ticks": false, "tickSize": 0, "grid": false, "domain": false, "title": "Latitude", "titleFont": "Liberation Sans", "titleFontSize": 20, "titleColor": "#262626", "titlePadding": 3}},
           "y2": {"field": "l1"}
         }},
        {"data": {"name": "months", "format": {"parse": {"m": "date"}}},
         "mark": {"type": "rule", "color": "#e2e2e2", "strokeWidth": 1},
         "encoding": {
           "x": {"field": "m", "type": "temporal", "scale": {"type": "utc", "domain": [{"year": 2020, "month": 2, "date": 1, "utc": true}, {"year": 2020, "month": 9, "date": 14, "utc": true}], "range": [487, 761], "nice": false}, "axis": null},
           "y": {"datum": 78, "type": "quantitative", "scale": {"domain": [78, 90], "range": [335, 168], "nice": false, "zero": false}, "axis": null},
           "y2": {"datum": 90}
         }},
        {"data": {"name": "lats"},
         "mark": {"type": "rule", "color": "#e2e2e2", "strokeWidth": 1},
         "encoding": {
           "y": {"field": "l", "type": "quantitative", "scale": {"domain": [78, 90], "range": [335, 168], "nice": false, "zero": false}, "axis": null},
           "x": {"datum": {"year": 2020, "month": 2, "date": 1, "utc": true}, "type": "temporal", "scale": {"type": "utc", "domain": [{"year": 2020, "month": 2, "date": 1, "utc": true}, {"year": 2020, "month": 9, "date": 14, "utc": true}], "range": [487, 761], "nice": false}, "axis": null},
           "x2": {"datum": {"year": 2020, "month": 9, "date": 14, "utc": true}}
         }},
        {"data": {"name": "regions"},
         "mark": {"type": "rect", "color": "#999999"},
         "encoding": {
           "x": {"datum": {"year": 2020, "month": 2, "date": 1, "utc": true}, "type": "temporal", "scale": {"type": "utc", "domain": [{"year": 2020, "month": 2, "date": 1, "utc": true}, {"year": 2020, "month": 9, "date": 14, "utc": true}], "range": [487, 761], "nice": false}, "axis": null},
           "x2": {"datum": {"year": 2020, "month": 2, "date": 8, "utc": true}},
           "y": {"field": "l0", "type": "quantitative", "scale": {"domain": [78, 90], "range": [335, 168], "nice": false, "zero": false}, "axis": null},
           "y2": {"field": "l1"}
         }},
        {"data": {"values": [{"t": "AB", "l": 88}, {"t": "NB", "l": 84}, {"t": "YP & FS", "l": 80.4}]},
         "mark": {"type": "text", "align": "left", "baseline": "middle", "font": "Liberation Sans", "fontSize": 23, "color": "#000000"},
         "encoding": {
           "x": {"datum": {"year": 2020, "month": 2, "date": 9, "utc": true}, "type": "temporal", "scale": {"type": "utc", "domain": [{"year": 2020, "month": 2, "date": 1, "utc": true}, {"year": 2020, "month": 9, "date": 14, "utc": true}], "range": [487, 761], "nice": false}, "axis": null},
           "y": {"field": "l", "type": "quantitative", "scale": {"domain": [78, 90], "range": [335, 168], "nice": false, "zero": false}, "axis": null},
           "text": {"field": "t"}
         }},
        {"data": {"values": [{"t": "2020-08-24", "l": 88.05}, {"t": "2020-08-27", "l": 88.3}, {"t": "2020-08-30", "l": 88.55}, {"t": "2020-09-02", "l": 88.8}, {"t": "2020-09-04", "l": 89.05}, {"t": "2020-07-15", "l": 81.3}, {"t": "2020-07-17", "l": 81.0}], "format": {"parse": {"t": "date"}}},
         "mark": {"type": "point", "shape": "triangle-up", "size": 150, "filled": true, "fill": "#8fe38f", "stroke": "#2ecc2e", "strokeWidth": 1.2, "opacity": 1},
         "encoding": {
           "x": {"field": "t", "type": "temporal", "scale": {"type": "utc", "domain": [{"year": 2020, "month": 2, "date": 1, "utc": true}, {"year": 2020, "month": 9, "date": 14, "utc": true}], "range": [487, 761], "nice": false}, "axis": null},
           "y": {"field": "l", "type": "quantitative", "scale": {"domain": [78, 90], "range": [335, 168], "nice": false, "zero": false}, "axis": null}
         }},
        {"data": {"values": [{"t": "2020-08-27", "l": 87.95}, {"t": "2020-08-31", "l": 88.3}, {"t": "2020-09-03", "l": 88.6}, {"t": "2020-09-06", "l": 88.75}, {"t": "2020-09-12", "l": 88.85}, {"t": "2020-07-15", "l": 81.15}, {"t": "2020-07-19", "l": 80.85}, {"t": "2020-07-22", "l": 80.5}], "format": {"parse": {"t": "date"}}},
         "mark": {"type": "circle", "size": 60, "color": "#0000cc", "opacity": 1},
         "encoding": {
           "x": {"field": "t", "type": "temporal", "scale": {"type": "utc", "domain": [{"year": 2020, "month": 2, "date": 1, "utc": true}, {"year": 2020, "month": 9, "date": 14, "utc": true}], "range": [487, 761], "nice": false}, "axis": null},
           "y": {"field": "l", "type": "quantitative", "scale": {"domain": [78, 90], "range": [335, 168], "nice": false, "zero": false}, "axis": null}
         }},
        {"data": {"values": [{"t": "2020-08-28", "l": 88.15}, {"t": "2020-08-30", "l": 88.35}, {"t": "2020-09-01", "l": 88.5}, {"t": "2020-09-03", "l": 88.65}, {"t": "2020-09-05", "l": 88.8}, {"t": "2020-09-08", "l": 88.85}, {"t": "2020-07-17", "l": 81.0}, {"t": "2020-07-19", "l": 80.8}, {"t": "2020-07-21", "l": 80.65}, {"t": "2020-07-23", "l": 80.55}], "format": {"parse": {"t": "date"}}},
         "mark": {"type": "point", "shape": "M-1,0H1M0,-1V1", "size": 170, "filled": false, "stroke": "#e0143c", "strokeWidth": 1.6, "opacity": 1},
         "encoding": {
           "x": {"field": "t", "type": "temporal", "scale": {"type": "utc", "domain": [{"year": 2020, "month": 2, "date": 1, "utc": true}, {"year": 2020, "month": 9, "date": 14, "utc": true}], "range": [487, 761], "nice": false}, "axis": null},
           "y": {"field": "l", "type": "quantitative", "scale": {"domain": [78, 90], "range": [335, 168], "nice": false, "zero": false}, "axis": null}
         }},
        {"data": {"name": "box", "format": {"parse": {"d0": "date", "d1": "date"}}},
         "mark": {"type": "rect", "fillOpacity": 0, "stroke": "#262626", "strokeWidth": 1.5},
         "encoding": {
           "x": {"field": "d0", "type": "temporal", "scale": {"type": "utc", "domain": [{"year": 2020, "month": 2, "date": 1, "utc": true}, {"year": 2020, "month": 9, "date": 14, "utc": true}], "range": [487, 761], "nice": false}, "axis": null},
           "x2": {"field": "d1"},
           "y": {"field": "l0", "type": "quantitative", "scale": {"domain": [78, 90], "range": [335, 168], "nice": false, "zero": false}, "axis": null},
           "y2": {"field": "l1"}
         }}
      ]
    }
  ]
}
